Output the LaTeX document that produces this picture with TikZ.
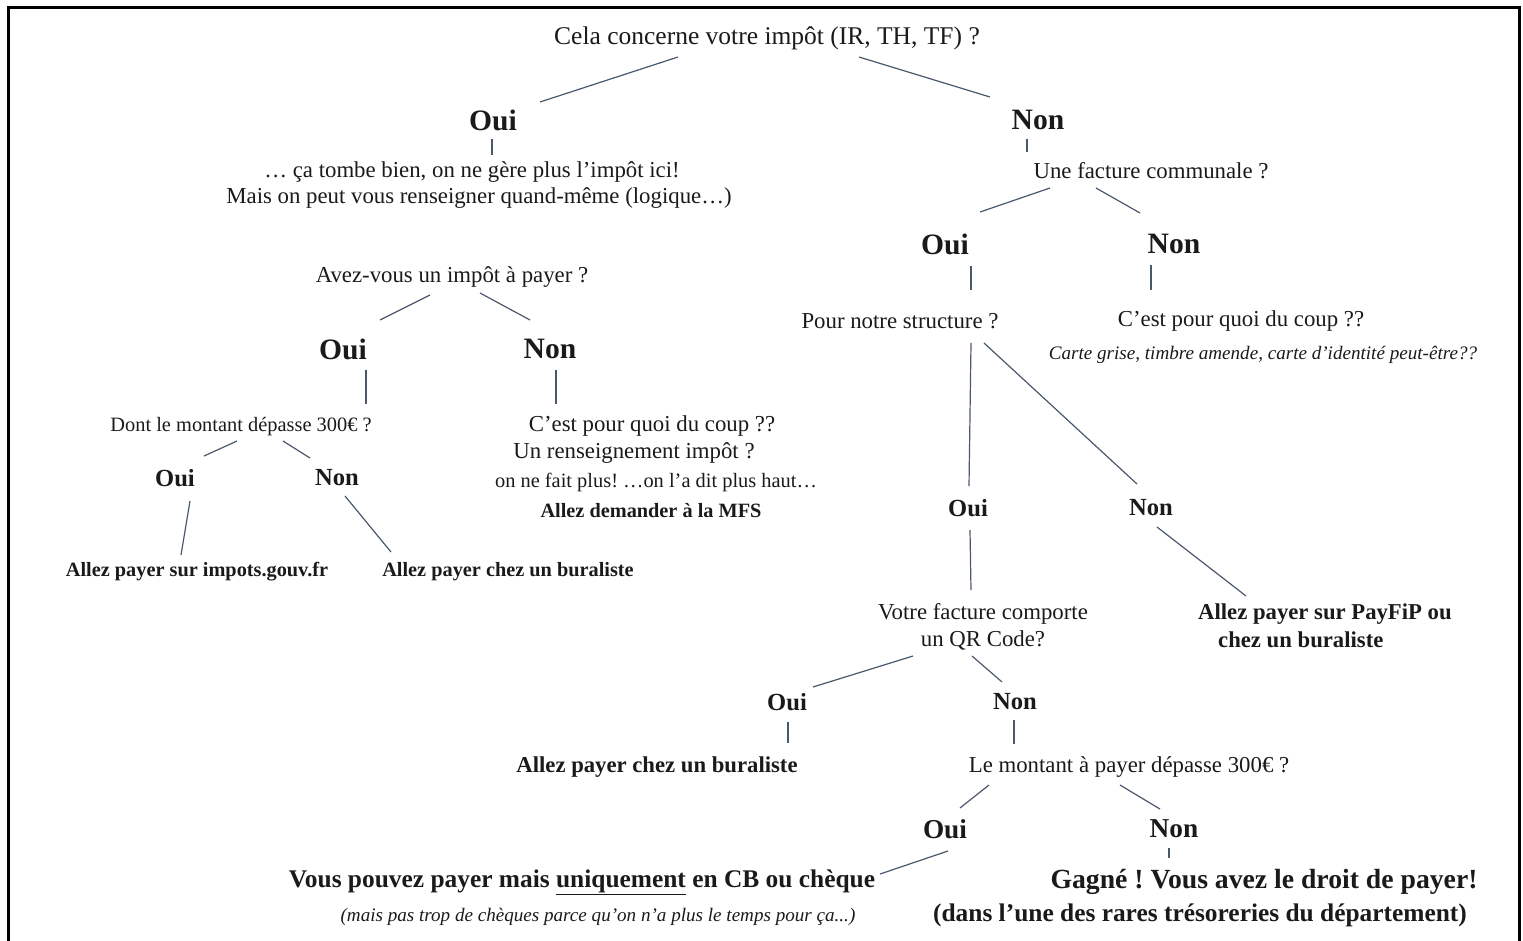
\documentclass[tikz,border=0pt]{standalone}
\usepackage{fontspec}
\setmainfont{Liberation Serif}
\frenchspacing
\definecolor{txt}{HTML}{1A1A1A}
\definecolor{ln}{HTML}{4A586C}
\begin{document}
\begin{tikzpicture}[x=1pt,y=-1pt,
  tx/.style={inner sep=0pt,text=txt,yshift=-2pt},
  tb/.style={inner sep=0pt,text=txt},
  title/.style={tx,font=\fontsize{25.5}{30}\selectfont},
  q/.style={tx,font=\fontsize{22.8}{27}\selectfont},
  qs/.style={tx,font=\fontsize{20.4}{24}\selectfont},
  ita/.style={tx,font=\itshape\fontsize{19.1}{23}\selectfont},
  yn/.style={tb,font=\bfseries\fontsize{29.6}{34}\selectfont},
  ynm/.style={tb,font=\bfseries\fontsize{27.3}{32}\selectfont},
  yns/.style={tb,font=\bfseries\fontsize{24.6}{29}\selectfont},
  act/.style={tx,font=\bfseries\fontsize{20.3}{24}\selectfont},
  actl/.style={tx,font=\bfseries\fontsize{22.7}{27}\selectfont},
  big/.style={tx,font=\bfseries\fontsize{25.4}{30}\selectfont},
  huge/.style={tx,font=\bfseries\fontsize{27.7}{32}\selectfont},
  conn/.style={draw=ln,line width=1.2pt}]
\useasboundingbox (0,0) rectangle (1523,940);
\draw[line width=3pt,black] (8,7) rectangle (1519,950);

% ---------- top
\node[title] (t) at (767,36) {Cela concerne votre impôt (IR, TH, TF) ?};
\node[yn] (oA) at (493,120) {Oui};
\node[yn] (nA) at (1038,120) {Non};
\node[q] (oAt1) at (472,170) {… ça tombe bien, on ne gère plus l’impôt ici!};
\node[q] (oAt2) at (479,196) {Mais on peut vous renseigner quand-même (logique…)};
\coordinate (tA1) at (678,57); \coordinate (tA2) at (540,102);
\coordinate (tB1) at (859,57); \coordinate (tB2) at (990,97);
\draw[conn] (tA1) -- (tA2);
\draw[conn] (tB1) -- (tB2);
\coordinate (oA1) at (492,139); \coordinate (oA2) at (492,155);
\draw[conn] (oA1) -- (oA2);

% ---------- left subtree
\node[q] (av) at (452,275) {Avez-vous un impôt à payer ?};
\coordinate (av1) at (430,295); \coordinate (av2) at (380,320);
\coordinate (av3) at (480,293); \coordinate (av4) at (530,320);
\draw[conn] (av1) -- (av2);
\draw[conn] (av3) -- (av4);
\node[yn] (oB) at (343,349) {Oui};
\node[yn] (nB) at (550,349) {Non};
\coordinate (oB1) at (366,370); \coordinate (oB2) at (366,404);
\coordinate (nB1) at (556,370); \coordinate (nB2) at (556,404);
\draw[conn] (oB1) -- (oB2);
\draw[conn] (nB1) -- (nB2);
\node[qs] (dont) at (241,425) {Dont le montant dépasse 300€ ?};
\node[q] (cq1) at (652,424) {C’est pour quoi du coup ??};
\node[q] (cq2) at (634,451) {Un renseignement impôt ?};
\node[qs] (cq3) at (656,480) {on ne fait plus! …on l’a dit plus haut…};
\node[act] (mfs) at (651,509) {Allez demander à la MFS};
\coordinate (d1) at (237,441); \coordinate (d2) at (204,456);
\coordinate (d3) at (283,441); \coordinate (d4) at (310,458);
\draw[conn] (d1) -- (d2);
\draw[conn] (d3) -- (d4);
\node[yns] (oC) at (175,478) {Oui};
\node[yns] (nC) at (337,478) {Non};
\coordinate (oC1) at (190,501); \coordinate (oC2) at (181,555);
\coordinate (nC1) at (345,496); \coordinate (nC2) at (391,552);
\draw[conn] (oC1) -- (oC2);
\draw[conn] (nC1) -- (nC2);
\node[act] (imp) at (197,570) {Allez payer sur impots.gouv.fr};
\node[act] (bur1) at (508,570) {Allez payer chez un buraliste};

% ---------- right subtree
\coordinate (nA1) at (1027,139); \coordinate (nA2) at (1027,152);
\draw[conn] (nA1) -- (nA2);
\node[q] (fc) at (1151,169) {Une facture communale ?};
\coordinate (fc1) at (1050,188); \coordinate (fc2) at (980,212);
\coordinate (fc3) at (1096,188); \coordinate (fc4) at (1140,213);
\draw[conn] (fc1) -- (fc2);
\draw[conn] (fc3) -- (fc4);
\node[yn] (oD) at (945,244) {Oui};
\node[yn] (nD) at (1174,244) {Non};
\coordinate (oD1) at (971,266); \coordinate (oD2) at (971,290);
\coordinate (nD1) at (1151,265); \coordinate (nD2) at (1151,290);
\draw[conn] (oD1) -- (oD2);
\draw[conn] (nD1) -- (nD2);
\node[q] (ps) at (900,319) {Pour notre structure ?};
\node[q] (cq4) at (1241,319) {C’est pour quoi du coup ??};
\node[ita] (cg) at (1263,353) {Carte grise, timbre amende, carte d’identité peut-être??};
\coordinate (ps1) at (971,343); \coordinate (ps2) at (969,486);
\coordinate (ps3) at (984,343); \coordinate (ps4) at (1137,484);
\draw[conn] (ps1) -- (ps2);
\draw[conn] (ps3) -- (ps4);
\node[yns] (oE) at (968,508) {Oui};
\node[yns] (nE) at (1151,508) {Non};
\coordinate (oE1) at (970,530); \coordinate (oE2) at (971,590);
\coordinate (nE1) at (1157,527); \coordinate (nE2) at (1246,596);
\draw[conn] (oE1) -- (oE2);
\draw[conn] (nE1) -- (nE2);
\node[q,align=center] (qr) at (983,625) {Votre facture comporte\\un QR Code?};
\node[actl,anchor=west] (pf1) at (1198,612) {Allez payer sur PayFiP ou};
\node[actl,anchor=west] (pf2) at (1218,638) {chez un buraliste};
\coordinate (qr1) at (913,656); \coordinate (qr2) at (813,687);
\coordinate (qr3) at (972,656); \coordinate (qr4) at (1002,682);
\draw[conn] (qr1) -- (qr2);
\draw[conn] (qr3) -- (qr4);
\node[yns] (oF) at (787,702) {Oui};
\node[yns] (nF) at (1015,702) {Non};
\coordinate (oF1) at (788,722); \coordinate (oF2) at (788,743);
\coordinate (nF1) at (1014,720); \coordinate (nF2) at (1014,744);
\draw[conn] (oF1) -- (oF2);
\draw[conn] (nF1) -- (nF2);
\node[actl] (bur2) at (657,765) {Allez payer chez un buraliste};
\node[q] (lm) at (1129,765) {Le montant à payer dépasse 300€ ?};
\coordinate (lm1) at (989,785); \coordinate (lm2) at (960,808);
\coordinate (lm3) at (1120,785); \coordinate (lm4) at (1160,809);
\draw[conn] (lm1) -- (lm2);
\draw[conn] (lm3) -- (lm4);
\node[ynm] (oG) at (945,829) {Oui};
\node[ynm] (nG) at (1174,829) {Non};
\coordinate (oG1) at (948,851); \coordinate (oG2) at (880,874);
\coordinate (nG1) at (1169,848); \coordinate (nG2) at (1169,858);
\draw[conn] (oG1) -- (oG2);
\draw[conn] (nG1) -- (nG2);
\node[big] (cb) at (582,880) {Vous pouvez payer mais \underline{uniquement} en CB ou chèque};
\node[ita] (ch) at (598,915) {(mais pas trop de chèques parce qu’on n’a plus le temps pour ça...)};
\node[huge] (gg) at (1264,880) {Gagné ! Vous avez le droit de payer!};
\node[big] (dep) at (1200,913) {(dans l’une des rares trésoreries du département)};
\end{tikzpicture}
\end{document}
